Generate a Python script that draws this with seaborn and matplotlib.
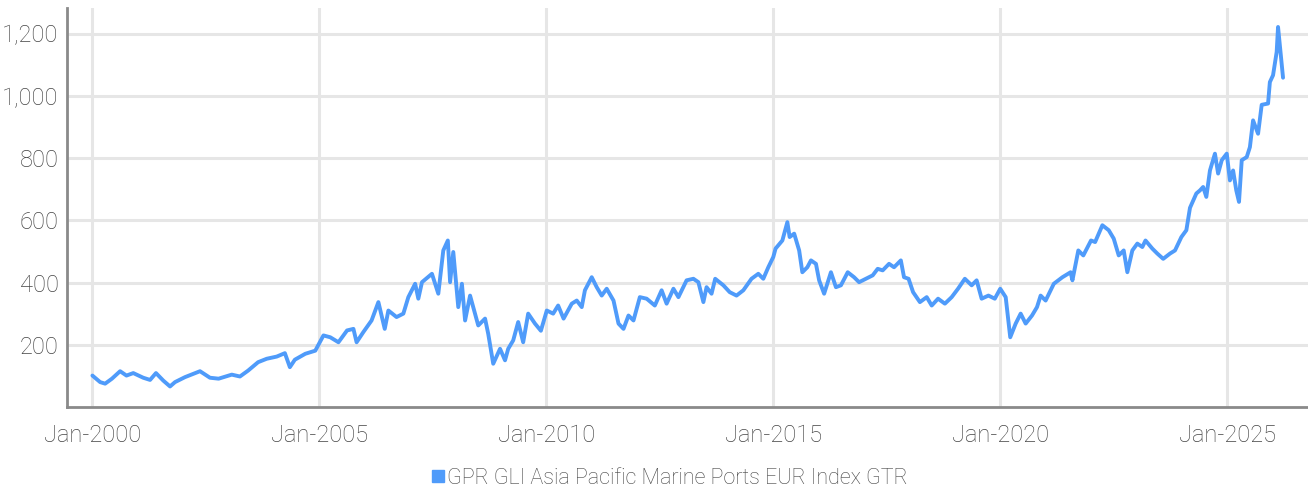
import pandas as pd
import matplotlib
matplotlib.use("Agg")
import matplotlib.pyplot as plt
import matplotlib.dates as mdates
from matplotlib.lines import Line2D
from matplotlib.ticker import StrMethodFormatter
import seaborn as sns

# values (decimal year, index level)
years = [
    2000.00, 2000.17, 2000.28, 2000.43, 2000.61, 2000.75, 2000.90, 2001.12, 2001.27, 2001.40,
    2001.56, 2001.71, 2001.82, 2002.04, 2002.37, 2002.59, 2002.78, 2003.07, 2003.25, 2003.43,
    2003.65, 2003.84, 2004.06, 2004.24, 2004.35, 2004.46, 2004.69, 2004.91, 2005.09, 2005.24,
    2005.42, 2005.61, 2005.75, 2005.82, 2005.97, 2006.15, 2006.30, 2006.44, 2006.52, 2006.70,
    2006.85, 2006.96, 2007.11, 2007.18, 2007.26, 2007.48, 2007.62, 2007.73, 2007.83, 2007.88,
    2007.95, 2008.06, 2008.14, 2008.21, 2008.32, 2008.50, 2008.65, 2008.72, 2008.83, 2008.98,
    2009.09, 2009.16, 2009.27, 2009.38, 2009.49, 2009.60, 2009.75, 2009.88, 2010.01, 2010.15,
    2010.26, 2010.38, 2010.56, 2010.67, 2010.78, 2010.85, 2011.00, 2011.11, 2011.22, 2011.33,
    2011.48, 2011.59, 2011.70, 2011.81, 2011.92, 2012.06, 2012.21, 2012.39, 2012.54, 2012.65,
    2012.80, 2012.91, 2013.09, 2013.24, 2013.35, 2013.46, 2013.53, 2013.64, 2013.72, 2013.90,
    2014.04, 2014.19, 2014.34, 2014.52, 2014.67, 2014.78, 2014.89, 2015.00, 2015.05, 2015.20,
    2015.31, 2015.36, 2015.46, 2015.57, 2015.64, 2015.75, 2015.83, 2015.94, 2016.01, 2016.12,
    2016.27, 2016.38, 2016.49, 2016.64, 2016.78, 2016.89, 2017.04, 2017.19, 2017.30, 2017.41,
    2017.55, 2017.66, 2017.81, 2017.88, 2017.98, 2018.08, 2018.23, 2018.38, 2018.49, 2018.63,
    2018.78, 2018.93, 2019.07, 2019.22, 2019.37, 2019.48, 2019.59, 2019.74, 2019.88, 2020.00,
    2020.12, 2020.22, 2020.34, 2020.45, 2020.56, 2020.70, 2020.81, 2020.89, 2021.00, 2021.18,
    2021.37, 2021.55, 2021.59, 2021.72, 2021.83, 2022.00, 2022.09, 2022.25, 2022.39, 2022.50,
    2022.61, 2022.72, 2022.80, 2022.91, 2023.02, 2023.13, 2023.20, 2023.35, 2023.46, 2023.59,
    2023.74, 2023.85, 2023.99, 2024.10, 2024.18, 2024.32, 2024.40, 2024.47, 2024.54, 2024.62,
    2024.73, 2024.80, 2024.88, 2024.99, 2025.06, 2025.13, 2025.20, 2025.26, 2025.32, 2025.43,
    2025.50, 2025.57, 2025.68, 2025.76, 2025.90, 2025.94, 2026.01, 2026.09, 2026.12, 2026.17,
    2026.23,
]
index_values = [
    101, 80, 75, 91, 115, 101, 109, 94, 87, 109,
    85, 66, 80, 96, 115, 94, 91, 104, 98, 117,
    144, 155, 162, 173, 128, 152, 171, 181, 230, 224,
    208, 246, 251, 208, 241, 278, 337, 251, 310, 289,
    300, 353, 396, 348, 401, 428, 364, 503, 535, 401,
    498, 321, 396, 278, 358, 262, 284, 235, 139, 187,
    150, 187, 214, 273, 208, 300, 268, 245, 310, 300,
    326, 284, 332, 342, 321, 375, 417, 385, 358, 380,
    342, 268, 251, 294, 278, 353, 348, 326, 375, 332,
    380, 353, 407, 412, 401, 337, 385, 364, 412, 391,
    369, 358, 375, 412, 428, 412, 449, 482, 509, 535,
    594, 546, 557, 503, 433, 449, 471, 460, 407, 364,
    433, 385, 391, 433, 417, 401, 412, 423, 444, 439,
    460, 449, 471, 417, 412, 369, 337, 353, 326, 348,
    332, 353, 380, 412, 391, 407, 348, 358, 348, 380,
    353, 224, 268, 300, 268, 294, 321, 358, 342, 396,
    417, 433, 407, 503, 487, 535, 530, 584, 568, 541,
    487, 503, 433, 503, 525, 514, 535, 509, 493, 476,
    493, 503, 546, 568, 640, 686, 696, 707, 675, 760,
    814, 750, 793, 814, 728, 760, 696, 659, 793, 803,
    835, 921, 878, 971, 975, 1044, 1066, 1141, 1221, 1146,
    1058,
]
series_name = "GPR GLI Asia Pacific Marine Ports EUR Index GTR"
y_ticks = [200, 400, 600, 800, 1000, 1200]

line_color = "#4f9bfa"
text_color = "#444444"

def to_date(y):
    return pd.Timestamp("2000-01-01") + pd.to_timedelta((y - 2000) * 365.25, unit="D")

df = pd.DataFrame({"date": [to_date(y) for y in years], "value": index_values})

sns.set_style("white")
plt.rcParams["font.family"] = ["Roboto", "DejaVu Sans"]
plt.rcParams["font.weight"] = "light"

fig = plt.figure(figsize=(13.08, 4.93), dpi=100)
ax = fig.add_axes([67 / 1308, 1 - 407 / 493, 1 - 67 / 1308, (407 - 8) / 493])

sns.lineplot(data=df, x="date", y="value", ax=ax, color=line_color, linewidth=2.8, legend=False)

ax.set_xlim(to_date(1999.44), to_date(2026.78))
ax.set_ylim(0, 1282)
ax.set_yticks(y_ticks)
ax.yaxis.set_major_formatter(StrMethodFormatter("{x:,.0f}"))
ax.xaxis.set_major_locator(mdates.YearLocator(5))
ax.xaxis.set_major_formatter(mdates.DateFormatter("%b-%Y"))

ax.grid(True, color="#e6e6e6", linewidth=2.2)
ax.set_axisbelow(True)
for side in ["top", "right"]:
    ax.spines[side].set_visible(False)
for side in ["left", "bottom"]:
    ax.spines[side].set_color("#8a8a8a")
    ax.spines[side].set_linewidth(2)

ax.tick_params(axis="both", length=0, labelsize=17, labelcolor=text_color)
ax.tick_params(axis="y", pad=6)
ax.tick_params(axis="x", pad=12)
ax.set_xlabel("")
ax.set_ylabel("")

handle = Line2D([], [], marker="s", linestyle="", color=line_color, markersize=8)
fig.legend([handle], [series_name], loc="center", bbox_to_anchor=(0.512, 0.03),
           frameon=False, fontsize=15.5, labelcolor=text_color,
           handlelength=0.6, handletextpad=0.1)

fig.savefig("out.png", dpi=100)
